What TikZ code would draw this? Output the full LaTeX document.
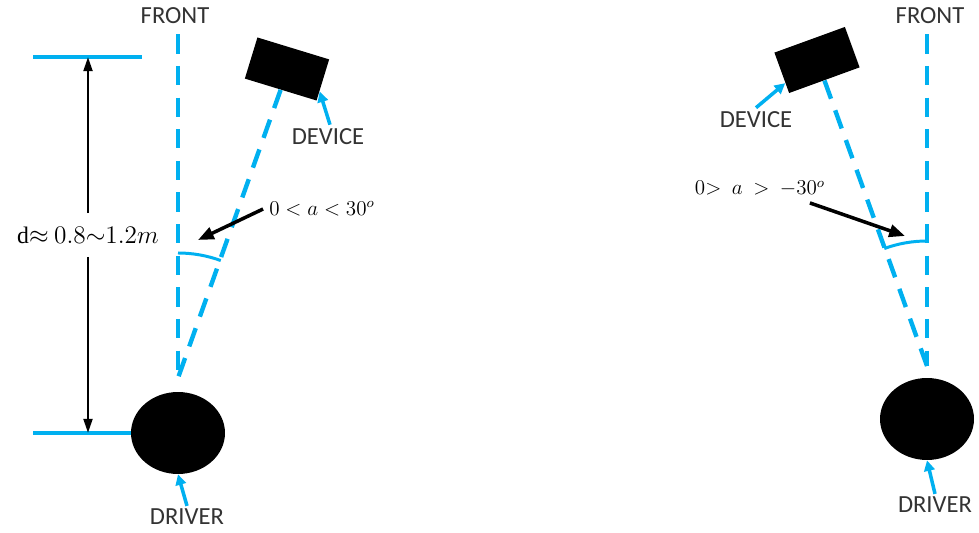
\documentclass[tikz,border=0pt]{standalone}
\usepackage{fontspec}
\setmainfont{Carlito}
\newfontfamily\dfont{Liberation Serif}
\usetikzlibrary{arrows.meta, positioning, calc, shapes.geometric}
\definecolor{skyline}{HTML}{00B0F0}
\definecolor{inkGrey}{HTML}{333333}
\def\Ra{125}

\begin{document}
\begin{tikzpicture}[x=0.02cm, y=0.02cm,
    every node/.style={font=\fontsize{14}{16}\selectfont, text=inkGrey},
    sight/.style={draw=skyline, line width=2.5pt,
                  dash pattern=on 11pt off 7pt},
    refline/.style={draw=skyline, line width=2pt},
    ptr/.style={-{Triangle[length=6pt,width=6pt]}, draw=skyline,
                line width=2pt},
    dimarrow/.style={-{Triangle[length=8pt,width=5pt]}, draw=black,
                     line width=1.4pt},
    callout/.style={-{Triangle[length=9pt,width=7pt]}, draw=black,
                    line width=2pt},
    anglearc/.style={draw=skyline, line width=1.7pt},
    driver/.style={ellipse, fill=black, minimum width=1.88cm,
                   minimum height=1.64cm, inner sep=0pt},
    device/.style={rectangle, fill=black, minimum width=1.5cm,
                   minimum height=0.86cm, inner sep=0pt},
    mathlabel/.style={font=\fontsize{12}{14}\selectfont, text=black},
    ]
\useasboundingbox (0,0) rectangle (979,533);

% ====================================================================
% Left view -- device to the right of the driver
% ====================================================================
\node (frontL) at (175,517) {FRONT};
\coordinate (apexL) at (178,155);
\node[driver] (drvL) at (178,100) {};
\node[device, rotate=-17] (devL) at (287,464) {};

% Sight lines
\draw[sight] (frontL.south) ++(3,-4) -- (apexL);
\draw[sight] (devL.south) -- (apexL);

% Angle arc
\draw[anglearc] ($(apexL)+(0,\Ra)$) arc[start angle=90, end angle=70,
  radius=\Ra];

% Distance d
\draw[refline] (33,476) -- (142,476);
\draw[refline] (33,100) -- (drvL.west);
\node[mathlabel, font=\fontsize{13.5}{15}\selectfont,
  minimum height=0.86cm] (dimL) at (88,298)
  {{\dfont d}${\approx}\ 0.8{\sim}1.2m$};
\coordinate (dimTopL) at (88,476);
\coordinate (dimBotL) at (88,100);
\draw[dimarrow] (dimL.north) -- (dimTopL);
\draw[dimarrow] (dimL.south) -- (dimBotL);

% Angle callout
\node[mathlabel] (angL) at (322,324) {$0 < a < 30^{o}$};
\coordinate (tipL) at (198,293);
\draw[callout] (angL.west) -- (tipL);

% Labels
\node (devLlab) at (328,396) {DEVICE};
\draw[ptr] (devLlab.north) ++(2,-2) --
  ($(devL.east)!0.55!(devL.south east)$);
\node (drvLlab) at (187,16) {DRIVER};
\draw[ptr] (drvLlab.north) ++(0,-3) -- (drvL.south);

% ====================================================================
% Right view -- device to the left of the driver
% ====================================================================
\node (frontR) at (930,517) {FRONT};
\coordinate (apexR) at (927,167);
\node[driver] (drvR) at (927,114) {};
\node[device, rotate=20] (devR) at (817,473) {};

% Sight lines
\draw[sight] (frontR.south) ++(-3,-4) -- (apexR);
\draw[sight] (devR.south) -- (apexR);

% Angle arc
\draw[anglearc] ($(apexR)+(0,\Ra)$) arc[start angle=90, end angle=110,
  radius=\Ra];

% Angle callout
\node[mathlabel] (angR) at (760,344)
  {$0{>}\enspace a\enspace{>}\enspace{-}30^{o}$};
\coordinate (tipR) at (905,297);
\draw[callout] ($(angR.south)!0.7!(angR.south east)$) -- (tipR);

% Labels
\node (devRlab) at (756,413) {DEVICE};
\draw[ptr] (devRlab.north) ++(0,-2) --
  ($(devR.west)!0.5!(devR.south west)$);
\node (drvRlab) at (935,28) {DRIVER};
\draw[ptr] (drvRlab.north) ++(0,-3) -- (drvR.south);

\end{tikzpicture}
\end{document}
